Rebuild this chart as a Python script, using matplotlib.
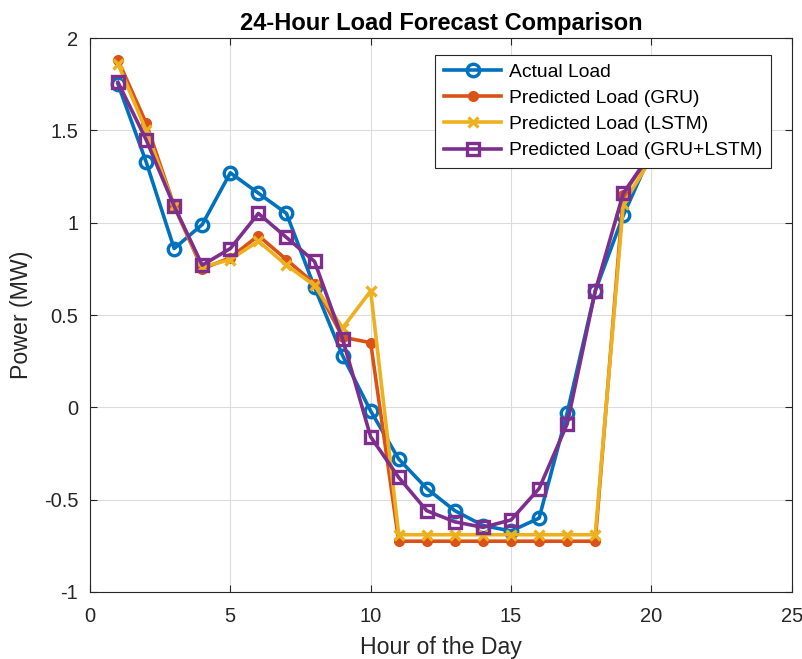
import matplotlib.pyplot as plt

plt.rcParams['font.family'] = ['Liberation Sans', 'DejaVu Sans']

hours = list(range(1, 21))
actual = [1.75, 1.33, 0.86, 0.99, 1.27, 1.16, 1.05, 0.65, 0.28, -0.02, -0.28, -0.44,
          -0.56, -0.64, -0.67, -0.60, -0.03, 0.63, 1.04, 1.38]
gru = [1.88, 1.54, 1.09, 0.75, 0.81, 0.93, 0.80, 0.67, 0.38, 0.35, -0.725, -0.725,
       -0.725, -0.725, -0.725, -0.725, -0.725, -0.725, 1.15, 1.38]
lstm = [1.86, 1.50, 1.09, 0.76, 0.80, 0.90, 0.77, 0.66, 0.43, 0.63, -0.69, -0.69,
        -0.69, -0.69, -0.69, -0.69, -0.69, -0.69, 1.10, 1.35]
hybrid = [1.76, 1.45, 1.09, 0.77, 0.86, 1.05, 0.92, 0.79, 0.37, -0.16, -0.38, -0.56,
          -0.62, -0.65, -0.61, -0.44, -0.09, 0.63, 1.16, 1.38]

fig = plt.figure(figsize=(8.03, 6.59), dpi=100)
ax = fig.add_axes([0.112, 0.1017, 0.874, 0.8406])

lw = 2.6
ax.plot(hours, actual, '-o', color='#0072BD', lw=lw, ms=9, mew=2.4, mfc='none', label='Actual Load')
ax.plot(hours, gru, '-o', color='#D95319', lw=lw, ms=7, label='Predicted Load (GRU)')
ax.plot(hours, lstm, '-x', color='#EDB120', lw=lw, ms=7, mew=2.4, label='Predicted Load (LSTM)')
ax.plot(hours, hybrid, '-s', color='#7E2F8E', lw=lw, ms=9, mew=2.4, mfc='none', label='Predicted Load (GRU+LSTM)')

ax.set_xlim(0, 25)
ax.set_ylim(-1, 2)
ax.set_xticks([0, 5, 10, 15, 20, 25])
ax.set_yticks([-1, -0.5, 0, 0.5, 1, 1.5, 2])
ax.set_yticklabels(['-1', '-0.5', '0', '0.5', '1', '1.5', '2'])
ax.tick_params(direction='in', labelsize=14.5, length=5, color='#262626', labelcolor='#262626',
               top=True, right=True)
ax.tick_params(axis='x', pad=10.5)
ax.tick_params(axis='y', pad=8.5)
ax.grid(True, color='#dcdcdc', lw=0.8)
for s in ax.spines.values():
    s.set_color('#262626')
    s.set_linewidth(0.8)

ax.set_title('24-Hour Load Forecast Comparison', fontsize=17, fontweight='bold', pad=6)
ax.set_xlabel('Hour of the Day', fontsize=16.7, color='#262626', labelpad=7.5)
ax.set_ylabel('Power (MW)', fontsize=16.7, color='#262626', labelpad=8)

leg = ax.legend(loc='upper right', bbox_to_anchor=(0.970, 0.969), borderaxespad=0,
                fontsize=13.9, fancybox=False, framealpha=1, edgecolor='#262626',
                borderpad=0.42, labelspacing=0.45, handlelength=3.0, handletextpad=0.4)
leg.get_frame().set_linewidth(0.8)

fig.savefig('out.png', dpi=100)
